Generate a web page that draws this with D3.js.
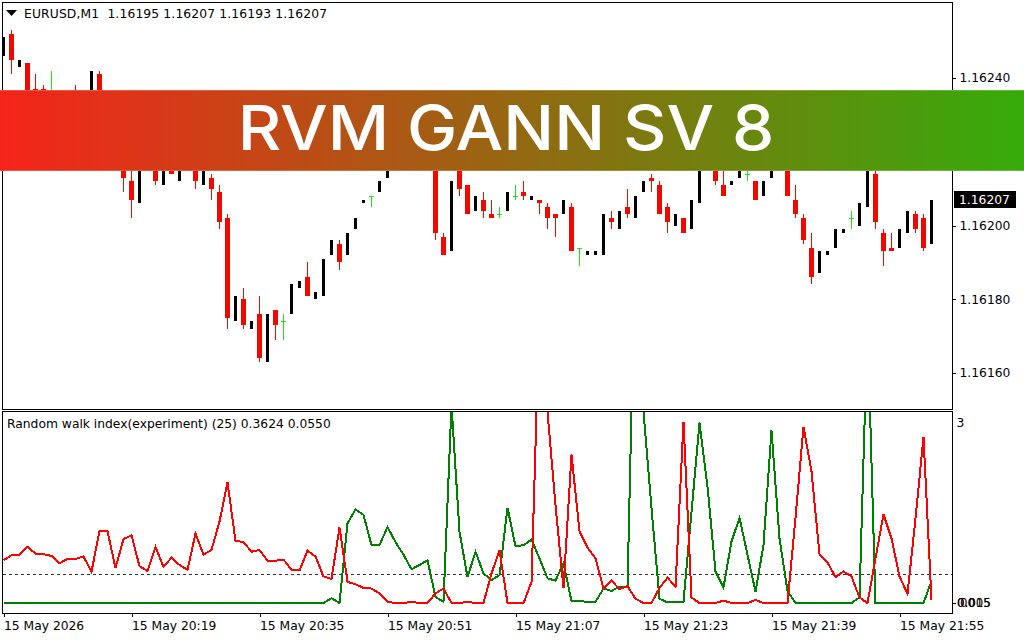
<!DOCTYPE html>
<html>
<head>
<meta charset="utf-8">
<title>RVM GANN SV 8</title>
<script src="https://cdn.jsdelivr.net/npm/d3@7"></script>
<style>
html, body { margin: 0; padding: 0; background: #fff; }
svg { display: block; }
text { font-family: "DejaVu Sans", sans-serif; font-size: 12.3px; fill: #000; }
</style>
</head>
<body>
<svg id="chart" width="1024" height="640"></svg>
<script>
//////////////////////////////////
// Data
//////////////////////////////////

// prices are points above 1.16000, one row of ten bars per line
var opens = [
  246,252,243,244,237,237,232,232,229,232,
  230,233,241,232,226,219,212,206,216,219,
  211,217,212,218,217,211,213,209,202,174,
  180,172,176,163,177,174,176,183,186,180,
  181,192,195,192,199,206,208,209,213,216,
  220,225,222,228,226,197,193,218,211,204,
  207,203,203,204,208,209,207,207,205,203,
  203,205,194,192,192,192,202,199,205,202,
  209,213,211,205,200,202,199,206,218,220,
  211,211,213,214,212,208,213,218,218,207,
  202,194,187,192,194,198,202,200,205,214,
  198,194,194,198,203,202,195];
var closes = [
  251,245,245,235,232,234,232,229,232,230,
  233,242,232,226,219,213,207,216,218,212,
  217,214,218,217,212,216,210,201,175,181,
  173,174,164,176,173,174,184,185,181,182,
  191,196,190,198,202,207,208,212,216,220,
  225,222,228,226,198,192,212,210,203,208,
  204,202,203,209,208,208,208,206,202,202,
  207,193,194,193,193,203,201,204,203,208,
  212,212,203,201,203,198,207,218,220,212,
  208,212,217,214,207,212,218,217,208,203,
  196,186,193,193,199,199,202,206,218,201,
  193,193,199,204,199,194,207];
var highs = [
  251,253,245,244,241,238,242,233,232,238,
  233,242,242,233,227,220,220,216,218,220,
  217,218,218,219,218,216,214,211,203,181,
  183,174,181,176,177,176,184,185,190,182,
  191,196,196,198,202,207,208,212,216,220,
  225,225,228,228,228,198,212,220,211,208,
  209,207,205,209,211,212,208,207,206,203,
  207,206,194,193,193,203,204,204,210,208,
  212,214,212,206,203,202,207,218,220,221,
  219,212,217,217,212,212,218,219,219,211,
  203,198,193,193,199,199,204,206,218,215,
  199,198,199,204,204,203,207];
var lows = [
  246,241,243,232,230,232,229,228,229,228,
  230,233,230,224,218,209,202,206,216,211,
  211,214,212,216,210,211,207,199,172,174,
  172,172,163,163,169,169,176,183,181,180,
  181,192,188,192,199,206,205,209,213,216,
  220,222,222,226,196,192,193,208,203,204,
  202,202,202,204,207,207,207,203,199,197,
  203,193,189,192,192,192,199,199,202,202,
  209,209,203,198,200,198,199,206,218,211,
  208,211,213,212,207,208,213,216,208,202,
  195,184,187,192,194,198,199,200,205,199,
  189,193,194,198,198,193,193];

// Random walk index buffers, as the panel legend lists them
var rwiFirst = [
  0,0,0,0,0,0,0,0,0,0,
  0,0,0,0,0,0,0,0,0,0,
  0,0,0,0,0,0,0,0,0,0,
  0,0,0,0,0,0,0,0,0,0,
  0,0.08,0,1.32,1.55,1.46,0.96,0.96,1.26,1.01,
  0.80,0.56,0.63,0.71,0.10,0.02,3.28,1.18,0.43,0.85,
  0.49,0.38,0.46,1.58,0.94,0.96,1.05,0.74,0.41,0.37,
  0.66,0.03,0.03,0.02,0.02,0.24,0.20,0.27,0.27,6.1,
  3.17,1.57,0.07,0.01,0.02,0.02,1.51,2.99,1.93,0.52,
  0.26,1.02,1.41,0.80,0.19,0.96,2.86,1.07,0.20,0,
  0,0,0,0,0,0,0,0.09,4.66,0,
  0,0,0,0,0,0,0.3624];
var rwiSecond = [
  0.71,0.79,0.80,0.93,0.82,0.81,0.78,0.66,0.73,0.73,
  0.77,0.52,1.19,1.19,0.58,1.06,1.12,0.61,0.53,0.93,
  0.60,0.75,0.63,0.55,1.15,0.80,0.88,1.35,2.00,1.03,
  1.01,0.85,0.88,0.70,0.70,0.72,0.55,0.54,0.87,0.77,
  0.44,0.40,1.25,0.35,0.31,0.25,0.24,0.16,0.02,0,
  0,0.02,0,0,0.16,0.24,0,0,0.02,0,
  0,0.49,0.87,0,0,0,0.35,4.86,3.17,1.62,
  0.25,2.46,1.19,0.92,0.74,0.24,0.37,0.23,0.28,0.07,
  0,0,0.25,0.42,0.27,3.0,0.09,0,0,0,
  0.04,0,0,0,0.05,0,0,0,0,1.41,
  2.92,2.18,0.81,0.67,0.43,0.52,0.44,0.09,0,0.74,
  1.47,1.07,0.44,0.15,1.40,2.75,0.055];

var priceTicks = [160, 180, 200, 220, 240];
var lastClose = 207;
var rwiLevel = 0.48;
var timeIndex = [0, 16, 32, 48, 64, 80, 96, 112];
var timeLabels = ["15 May 2026", "15 May 20:19", "15 May 20:35", "15 May 20:51",
  "15 May 21:07", "15 May 21:23", "15 May 21:39", "15 May 21:55"];
var rwiLowLabels = ["0.005", "0.015", "00"];
var headerText = "EURUSD,M1  1.16195 1.16207 1.16193 1.16207";
var panelText = "Random walk index(experiment) (25) 0.3624 0.0550";
var bannerText = "RVM GANN SV 8";

//////////////////////////////////
// Scales
//////////////////////////////////

var svg = d3.select("#chart");
var x = d3.scaleLinear().domain([0, 116]).range([3, 931]);
var y = d3.scaleLinear().domain([160, 240]).range([373, 78]);
var yRwi = d3.scaleLinear().domain([0, 3]).range([603, 422]);
var fmtPrice = function(d) { return (1.16 + d / 100000).toFixed(5); };
var labelFont = '"DejaVu Sans", sans-serif';

var defs = svg.append("defs");
defs.append("clipPath").attr("id", "mainClip").append("rect")
  .attr("x", 2).attr("y", 2).attr("width", 950).attr("height", 407);
defs.append("clipPath").attr("id", "rwiClip").append("rect")
  .attr("x", 2).attr("y", 411).attr("width", 950).attr("height", 202);
var grad = defs.append("linearGradient").attr("id", "bannerFill");
grad.append("stop").attr("offset", "0%").attr("stop-color", "#f5241a");
grad.append("stop").attr("offset", "100%").attr("stop-color", "#36ab0a");

//////////////////////////////////
// Candles
//////////////////////////////////

var bars = d3.range(opens.length).map(function(i) {
  return {i: i, o: opens[i], c: closes[i], h: highs[i], l: lows[i]};
});
var candles = svg.append("g").attr("clip-path", "url(#mainClip)")
  .attr("shape-rendering", "crispEdges");

function barTop(d) { return Math.round(y(Math.max(d.o, d.c))); }
function barBottom(d) { return Math.round(y(Math.min(d.o, d.c))); }

// wicks only on falling bars and dojis, rising bars show the body alone
candles.selectAll("rect.wick")
  .data(bars.filter(function(d) { return d.c <= d.o; }))
  .enter().append("rect").attr("class", "wick")
  .attr("x", function(d) { return x(d.i); })
  .attr("y", function(d) { return Math.round(y(d.h)); })
  .attr("width", 1)
  .attr("height", function(d) { return Math.round(y(d.l)) - Math.round(y(d.h)); })
  .attr("fill", function(d) { return d.c < d.o ? "#ff0000" : "#20e020"; });

candles.selectAll("rect.body")
  .data(bars.filter(function(d) { return d.c !== d.o; }))
  .enter().append("rect").attr("class", "body")
  .attr("x", function(d) { return x(d.i) - (d.c < d.o ? 2 : 1); })
  .attr("y", barTop)
  .attr("width", function(d) { return d.c < d.o ? 5 : 3; })
  .attr("height", function(d) { return barBottom(d) - barTop(d); })
  .attr("fill", function(d) { return d.c < d.o ? "#ff0000" : "#000000"; });

candles.selectAll("rect.doji")
  .data(bars.filter(function(d) { return d.c === d.o; }))
  .enter().append("rect").attr("class", "doji")
  .attr("x", function(d) { return x(d.i) - 2; })
  .attr("y", barTop)
  .attr("width", 5)
  .attr("height", 1)
  .attr("fill", "#20e020");

//////////////////////////////////
// Random walk index panel
//////////////////////////////////

var rwi = svg.append("g").attr("clip-path", "url(#rwiClip)");

rwi.append("line")
  .attr("x1", 3).attr("x2", 952)
  .attr("y1", Math.round(yRwi(rwiLevel)) + 0.5).attr("y2", Math.round(yRwi(rwiLevel)) + 0.5)
  .attr("stroke", "#333").attr("stroke-dasharray", "3,3")
  .attr("shape-rendering", "crispEdges");

var line = d3.line()
  .x(function(d, i) { return x(i) + 0.5; })
  .y(function(d) { return yRwi(d); });

rwi.append("path").datum(rwiFirst).attr("d", line)
  .attr("fill", "none").attr("stroke", "#008000").attr("stroke-width", 2)
  .attr("shape-rendering", "crispEdges");
rwi.append("path").datum(rwiSecond).attr("d", line)
  .attr("fill", "none").attr("stroke", "#ff0000").attr("stroke-width", 2)
  .attr("shape-rendering", "crispEdges");

//////////////////////////////////
// Frames and axes
//////////////////////////////////

var frames = svg.append("g").attr("fill", "none").attr("stroke", "#000")
  .attr("shape-rendering", "crispEdges");
frames.append("rect").attr("x", 2.5).attr("y", 2.5).attr("width", 949.5).attr("height", 406.5);
frames.append("rect").attr("x", 2.5).attr("y", 411.5).attr("width", 949.5).attr("height", 202);

var priceAxis = d3.axisRight(y).tickValues(priceTicks).tickFormat(fmtPrice)
  .tickSize(3).tickPadding(4);
var priceG = svg.append("g").attr("transform", "translate(952.5,0)").call(priceAxis);
priceG.select(".domain").remove();
priceG.selectAll("line").attr("shape-rendering", "crispEdges");
priceG.selectAll("text").style("font-family", labelFont).style("font-size", "12.3px");

// current price flag
var flagY = Math.round(y(lastClose));
svg.append("rect").attr("x", 954).attr("y", flagY - 9).attr("width", 62).attr("height", 17).attr("fill", "#000");
svg.append("text").attr("x", 959).attr("y", flagY + 4).text(fmtPrice(lastClose)).style("fill", "#fff");

// right scale of the lower panel, the low labels print on top of each other
var rwiAxis = d3.axisRight(yRwi).tickValues([3]).tickFormat(d3.format("d")).tickSize(0).tickPadding(4);
var rwiG = svg.append("g").attr("transform", "translate(952.5,1)").call(rwiAxis);
rwiG.select(".domain").remove();
rwiG.selectAll("text").style("font-family", labelFont).style("font-size", "12.3px");
svg.append("rect").attr("x", 953).attr("y", Math.round(yRwi(0))).attr("width", 3).attr("height", 1).attr("fill", "#000");
svg.selectAll("text.low").data(rwiLowLabels).enter().append("text").attr("class", "low")
  .attr("x", function(d) { return d === "00" ? 960 : 957; })
  .attr("y", Math.round(yRwi(0)) + 4)
  .style("font-size", "11.8px")
  .text(function(d) { return d; });

var timeAxis = d3.axisBottom(x).tickValues(timeIndex)
  .tickFormat(function(d, i) { return timeLabels[i]; })
  .tickSize(3).tickPadding(5);
var timeG = svg.append("g").attr("transform", "translate(0.5,613.5)").call(timeAxis);
timeG.select(".domain").remove();
timeG.selectAll("line").attr("shape-rendering", "crispEdges");
timeG.selectAll("text").attr("text-anchor", "start")
  .style("font-family", labelFont).style("font-size", "12.3px");

// header
svg.append("path").attr("d", d3.line()([[6, 10], [17, 10], [11.5, 16]])).attr("fill", "#000");
svg.append("text").attr("x", 24).attr("y", 18).style("white-space", "pre")
  .style("letter-spacing", "0.15px").text(headerText);
svg.append("text").attr("x", 7).attr("y", 428).text(panelText);

//////////////////////////////////
// Banner
//////////////////////////////////

svg.append("rect").attr("x", 0).attr("y", 90).attr("width", 1024).attr("height", 81)
  .attr("fill", "url(#bannerFill)");
// soft top and bottom edge of the strip
svg.selectAll("rect.edge").data([90, 170]).enter().append("rect").attr("class", "edge")
  .attr("x", 0).attr("y", function(d) { return d; }).attr("width", 1024).attr("height", 1)
  .attr("fill", "#fff").attr("opacity", 0.2);
svg.append("text").attr("text-anchor", "middle")
  .attr("transform", "translate(506,150) scale(1.085,1)")
  .style("font-family", "Inter, sans-serif").style("font-size", "62px").style("font-weight", 500)
  .style("fill", "#fff").text(bannerText);
</script>
</body>
</html>
